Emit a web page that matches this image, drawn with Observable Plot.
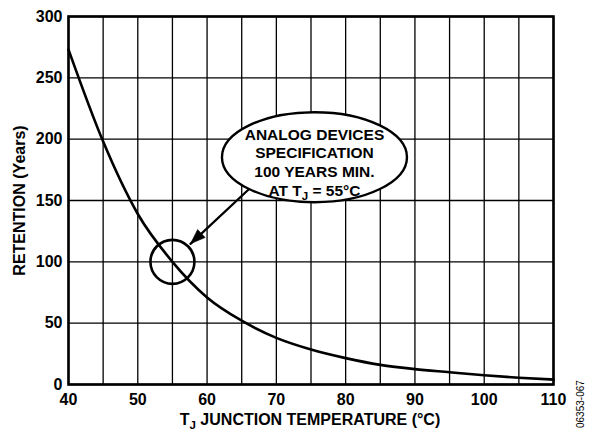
<!DOCTYPE html>
<html><head><meta charset="utf-8">
<script src="https://cdn.jsdelivr.net/npm/d3@7"></script>
<script src="https://cdn.jsdelivr.net/npm/@observablehq/plot@0.6"></script>
<style>
body{margin:0;background:#fff;}
#chart svg{font-family:"Liberation Sans",Arial,sans-serif;background:#fff;}
</style></head><body><div id="chart"></div>
<script>
// Data
const temperature = [40, 45, 50, 55, 60, 65, 70, 75, 80, 85, 90, 95, 100, 105, 110];
const retention   = [273, 198, 139, 100, 71, 52, 38, 28.5, 21.5, 16, 12.5, 10, 7.5, 5.5, 4];
const xTickValues = [40, 50, 60, 70, 80, 90, 100, 110];
const xGridValues = [40, 45, 50, 55, 60, 65, 70, 75, 80, 85, 90, 95, 100, 105, 110];
const yTickValues = [0, 50, 100, 150, 200, 250, 300];
const specPoint = [{t: 55, r: 100}];
const calloutCenter = [{t: 75.5, r: 185.3}];
const calloutTextPos = [{t: 75.5, r: 181.5}];
const calloutLines = ["ANALOG DEVICES", "SPECIFICATION", "100 YEARS MIN.", "AT TJ = 55°C"];
const arrowPath = [{t: 66.3, r: 160.6}, {t: 57.6, r: 114.7}];
const xTitle = ["T", "J", " JUNCTION TEMPERATURE (°C)"];
const yTitle = "RETENTION (Years)";
const figureCode = "06353-067";

const curveData = temperature.map((t, i) => ({t, r: retention[i]}));

const ellipseSymbol = {
  draw(ctx) {
    const a = 92.5, b = 45, k = 0.5523;
    ctx.moveTo(a, 0);
    ctx.bezierCurveTo(a, b * k, a * k, b, 0, b);
    ctx.bezierCurveTo(-a * k, b, -a, b * k, -a, 0);
    ctx.bezierCurveTo(-a, -b * k, -a * k, -b, 0, -b);
    ctx.bezierCurveTo(a * k, -b, a, -b * k, a, 0);
    ctx.closePath();
  }
};
const arrowHeadSymbol = {
  draw(ctx) {
    ctx.moveTo(0, 0);
    ctx.lineTo(-5.5, 15);
    ctx.lineTo(5.5, 15);
    ctx.closePath();
  }
};

const chart = Plot.plot({
  width: 593,
  height: 430,
  marginLeft: 68,
  marginRight: 40,
  marginTop: 16,
  marginBottom: 46,
  style: {fontFamily: "'Liberation Sans', Arial, sans-serif", background: "#fff"},
  x: {domain: [40, 110]},
  y: {domain: [0, 300]},
  marks: [
    Plot.ruleX(xGridValues, {stroke: "#000", strokeWidth: 1.3}),
    Plot.ruleY(yTickValues, {stroke: "#000", strokeWidth: 1.3}),
    Plot.frame({stroke: "#000", strokeWidth: 2.6}),
    Plot.axisX({ticks: xTickValues, tickSize: 0, tickPadding: 9, fontSize: 16, fontWeight: "bold", label: null, tickFormat: d => String(d), fill: "#000"}),
    Plot.axisY({ticks: yTickValues, tickSize: 0, tickPadding: 6, fontSize: 16, fontWeight: "bold", label: null, tickFormat: d => String(d), fill: "#000"}),
    Plot.line(curveData, {x: "t", y: "r", curve: "monotone-x", stroke: "#000", strokeWidth: 2.6}),
    Plot.dot(specPoint, {x: "t", y: "r", r: 22, stroke: "#000", strokeWidth: 2.6, fill: "none"}),
    Plot.line(arrowPath, {x: "t", y: "r", stroke: "#000", strokeWidth: 2.3}),
    Plot.dot(arrowPath.slice(1), {x: "t", y: "r", r: 5, symbol: arrowHeadSymbol, rotate: 226.8, fill: "#000", stroke: "#000", strokeWidth: 0.5}),
    Plot.dot(calloutCenter, {x: "t", y: "r", r: 5, symbol: ellipseSymbol, fill: "#fff", stroke: "#000", strokeWidth: 2.4}),
    Plot.text(calloutTextPos, {x: "t", y: "r", text: () => calloutLines.join("\n"), fontSize: 15.5, fontWeight: "bold", lineHeight: 1.22, fill: "#000", className: "callout"})
  ]
});

document.getElementById("chart").appendChild(chart);

// subscript J in callout last line
const svg = d3.select(chart);
const tspans = svg.selectAll(".callout tspan").nodes();
if (tspans.length >= 4) {
  const last = d3.select(tspans[3]);
  last.text("");
  last.append("tspan").text("AT T");
  last.append("tspan").attr("dy", "4").attr("font-size", "11.5").text("J");
  last.append("tspan").attr("dy", "-4").text(" = 55°C");
}

// axis titles
const xt = svg.append("text")
  .attr("x", 310).attr("y", 425)
  .attr("text-anchor", "middle")
  .attr("font-size", 16).attr("font-weight", "bold").attr("fill", "#000");
xt.append("tspan").text(xTitle[0]);
xt.append("tspan").attr("dy", 4).attr("font-size", 11.5).text(xTitle[1]);
xt.append("tspan").attr("dy", -4).text(xTitle[2]);

svg.append("text")
  .attr("transform", "translate(25,200.5) rotate(-90)")
  .attr("text-anchor", "middle")
  .attr("font-size", 16).attr("font-weight", "bold").attr("fill", "#000")
  .text(yTitle);

svg.append("text")
  .attr("transform", "translate(584,428) rotate(-90)")
  .attr("text-anchor", "start")
  .attr("font-size", 10).attr("fill", "#000")
  .text(figureCode);
</script></body></html>
